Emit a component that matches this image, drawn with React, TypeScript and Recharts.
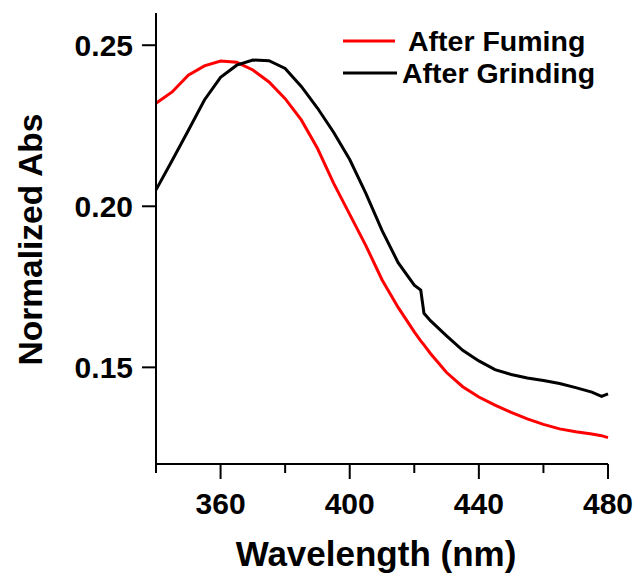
import React from "react";
import { LineChart, Line, XAxis, YAxis, Legend } from "recharts";

const wavelengths = [340, 345, 350, 355, 360, 365, 370, 375, 380, 385, 390, 395, 400, 405, 410, 415, 420, 422, 423, 425, 430, 435, 440, 445, 450, 455, 460, 465, 470, 475, 478, 480];
const afterFuming = [0.2320, 0.2355, 0.2407, 0.2436, 0.2451, 0.2447, 0.2423, 0.2386, 0.2334, 0.2268, 0.2180, 0.2072, 0.1975, 0.1878, 0.1772, 0.1686, 0.1610, 0.1582, 0.1570, 0.1543, 0.1484, 0.1440, 0.1408, 0.1383, 0.1360, 0.1340, 0.1323, 0.1309, 0.1300, 0.1293, 0.1288, 0.1282];
const afterGrinding = [0.2051, 0.2142, 0.2235, 0.2330, 0.2400, 0.2438, 0.2454, 0.2452, 0.2428, 0.2372, 0.2305, 0.2230, 0.2145, 0.2040, 0.1925, 0.1825, 0.1755, 0.1740, 0.1668, 0.1645, 0.1598, 0.1553, 0.1520, 0.1493, 0.1478, 0.1467, 0.1459, 0.1450, 0.1437, 0.1423, 0.1410, 0.1418];
const xTicks = [340, 360, 380, 400, 420, 440, 460, 480];
const xMajor = [360, 400, 440, 480];
const yTicks = [0.15, 0.2, 0.25];

const data = wavelengths.map((w, i) => ({ w, fuming: afterFuming[i], grinding: afterGrinding[i] }));

const FONT = "'Liberation Sans', Arial, Helvetica, sans-serif";

const XTick = (props: any) => {
  const { x, y, payload } = props;
  const major = xMajor.includes(payload.value);
  return (
    <g>
      <line x1={x} x2={x} y1={y} y2={y + (major ? 15 : 9)} stroke="#000" strokeWidth={2} />
      {major && (
        <text x={x} y={y + 50} textAnchor="middle" fontFamily={FONT} fontWeight="bold" fontSize={30} fill="#000">
          {payload.value}
        </text>
      )}
    </g>
  );
};

const legendRows = [
  { x1: 13, x2: 65, y: 21, tx: 78 },
  { x1: 13, x2: 67, y: 53, tx: 72 },
];

const renderLegend = (props: any) => {
  const payload = props.payload || [];
  return (
    <svg width={300} height={75}>
      {payload.map((p: any, i: number) => {
        const r = legendRows[i];
        return (
          <g key={i}>
            <line x1={r.x1} x2={r.x2} y1={r.y} y2={r.y} stroke={p.color} strokeWidth={3} />
            <text x={r.tx} y={r.y + 10} fontFamily={FONT} fontWeight="bold" fontSize={28.5} fill="#000">
              {p.value}
            </text>
          </g>
        );
      })}
    </svg>
  );
};

const XLabel = (props: any) => {
  const vb = props.viewBox || {};
  return (
    <text x={vb.x + vb.width / 2 - 6} y={566} textAnchor="middle" fontFamily={FONT} fontWeight="bold" fontSize={35} fill="#000">
      Wavelength (nm)
    </text>
  );
};

const YLabel = (props: any) => {
  const vb = props.viewBox || {};
  const cy = vb.y + vb.height / 2 + 1;
  return (
    <text x={42} y={cy} transform={`rotate(-90, 42, ${cy})`} textAnchor="middle" fontFamily={FONT} fontWeight="bold" fontSize={33.5} fill="#000">
      Normalized Abs
    </text>
  );
};

export default function App() {
  return (
    <div style={{ position: "absolute", left: 0, top: 0, background: "#fff" }}>
      <LineChart width={640} height={577} data={data} margin={{ top: 13, right: 32, left: 0, bottom: 0 }}>
        <XAxis
          dataKey="w"
          type="number"
          domain={[340, 480]}
          ticks={xTicks}
          interval={0}
          tickSize={0}
          tickMargin={0}
          tickLine={false}
          tick={<XTick />}
          axisLine={{ stroke: "#000", strokeWidth: 2 }}
          height={113}
          label={<XLabel />}
        />
        <XAxis
          xAxisId="top"
          dataKey="w"
          type="number"
          domain={[340, 480]}
          orientation="top"
          height={0}
          tick={false}
          tickLine={false}
          axisLine={{ stroke: "#000", strokeWidth: 2 }}
        />
        <YAxis
          type="number"
          domain={[0.12, 0.26]}
          ticks={yTicks}
          interval={0}
          width={156}
          tickSize={14}
          tickMargin={9}
          tickLine={{ stroke: "#000", strokeWidth: 2 }}
          axisLine={{ stroke: "#000", strokeWidth: 2 }}
          tickFormatter={(v: number) => v.toFixed(2)}
          tick={{ fontFamily: FONT, fontWeight: "bold", fontSize: 30, fill: "#000" }}
          label={<YLabel />}
        />
        <YAxis
          yAxisId="right"
          type="number"
          domain={[0.12, 0.26]}
          orientation="right"
          width={0}
          tick={false}
          tickLine={false}
          axisLine={{ stroke: "#000", strokeWidth: 2 }}
        />
        <Legend
          layout="horizontal"
          verticalAlign="middle"
          content={renderLegend}
          wrapperStyle={{ position: "absolute", left: 330, top: 20, width: 300, height: 75 }}
        />
        <Line type="linear" dataKey="fuming" name="After Fuming" stroke="#ff0000" strokeWidth={3} dot={false} isAnimationActive={false} />
        <Line type="linear" dataKey="grinding" name="After Grinding" stroke="#000000" strokeWidth={3} dot={false} isAnimationActive={false} />
      </LineChart>
    </div>
  );
}
